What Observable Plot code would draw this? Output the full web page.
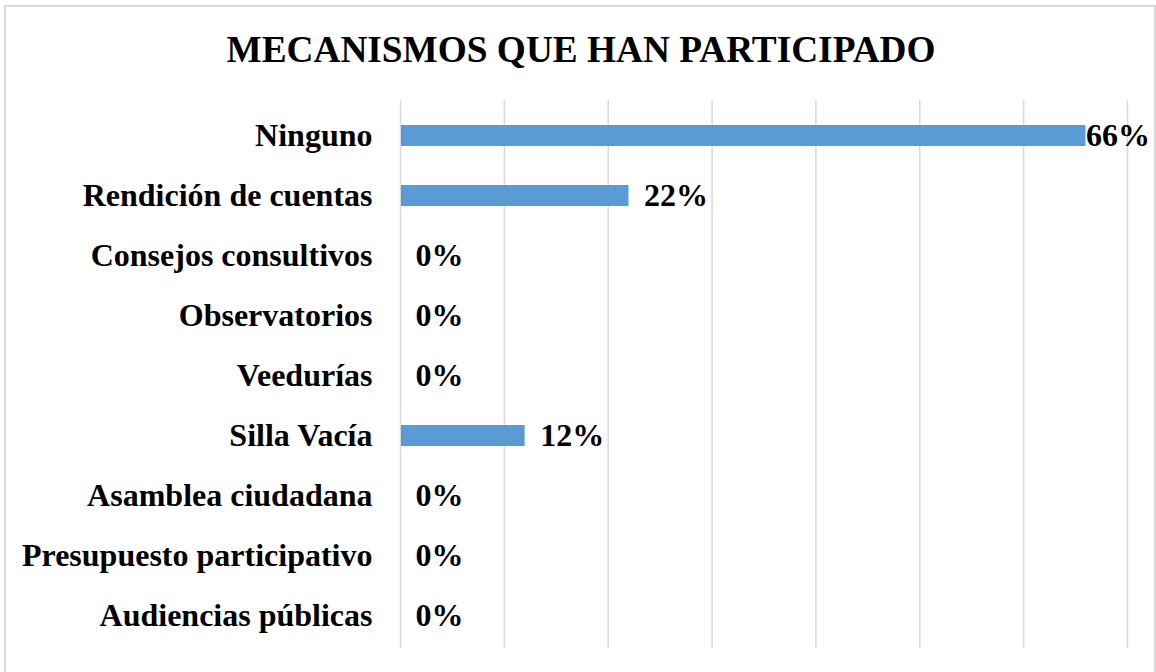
<!DOCTYPE html>
<html>
<head>
<meta charset="utf-8">
<script src="https://cdn.jsdelivr.net/npm/d3@7"></script>
<script src="https://cdn.jsdelivr.net/npm/@observablehq/plot@0.6"></script>
<style>
  html, body { margin: 0; padding: 0; background: #fff; width: 1156px; height: 672px; overflow: hidden; }
  #frame { position: absolute; left: 4px; top: 5px; width: 1152px; height: 700px; border: 2px solid #d9d9d9; box-sizing: border-box; }
  #title { position: absolute; left: 0; top: 0; width: 1162px; height: 100px; line-height: 100px; text-align: center;
    font-family: "Liberation Serif", "Times New Roman", serif; font-weight: bold; font-size: 37.3px; color: #000; }
  #chart { position: absolute; left: 0; top: 100px; }
  #chart svg { display: block; }
</style>
</head>
<body>
<div id="frame"></div>
<div id="title">MECANISMOS QUE HAN PARTICIPADO</div>
<div id="chart"></div>
<script>
const categories = ["Ninguno", "Rendición de cuentas", "Consejos consultivos", "Observatorios", "Veedurías", "Silla Vacía", "Asamblea ciudadana", "Presupuesto participativo", "Audiencias públicas"];
const values = [0.66, 0.22, 0, 0, 0, 0.12, 0, 0, 0];
const gridTicks = [0, 0.1, 0.2, 0.3, 0.4, 0.5, 0.6, 0.7];

const data = categories.map((c, i) => ({c, v: values[i]}));
const fmt = d3.format(".0%");

const chart = Plot.plot({
  width: 1156,
  height: 572,
  marginLeft: 400,
  marginRight: 29,
  marginTop: 0,
  marginBottom: 22,
  style: {fontFamily: "'Liberation Serif', 'Times New Roman', serif", fontSize: "32px", fontWeight: "bold", color: "#000", background: "transparent"},
  x: {domain: [0, 0.7], axis: null},
  y: {domain: categories, paddingInner: 0.655, paddingOuter: 0.354, tickSize: 0, tickPadding: 28, label: null},
  marks: [
    Plot.ruleX(gridTicks, {stroke: "#d9d9d9", strokeWidth: 1.5, insetBottom: 2}),
    Plot.barX(data, {x: "v", y: "c", fill: "#5b9bd5", insetLeft: 1}),
    Plot.text(data.filter(d => d.v < 0.6), {x: "v", y: "c", text: d => fmt(d.v), textAnchor: "start", dx: 15, fontSize: 32, fontWeight: "bold", fill: "#000"}),
    Plot.text(data.filter(d => d.v >= 0.6), {x: "v", y: "c", text: d => fmt(d.v), textAnchor: "start", dx: 0, fontSize: 32, fontWeight: "bold", fill: "#000"})
  ]
});
document.getElementById("chart").appendChild(chart);
</script>
</body>
</html>
